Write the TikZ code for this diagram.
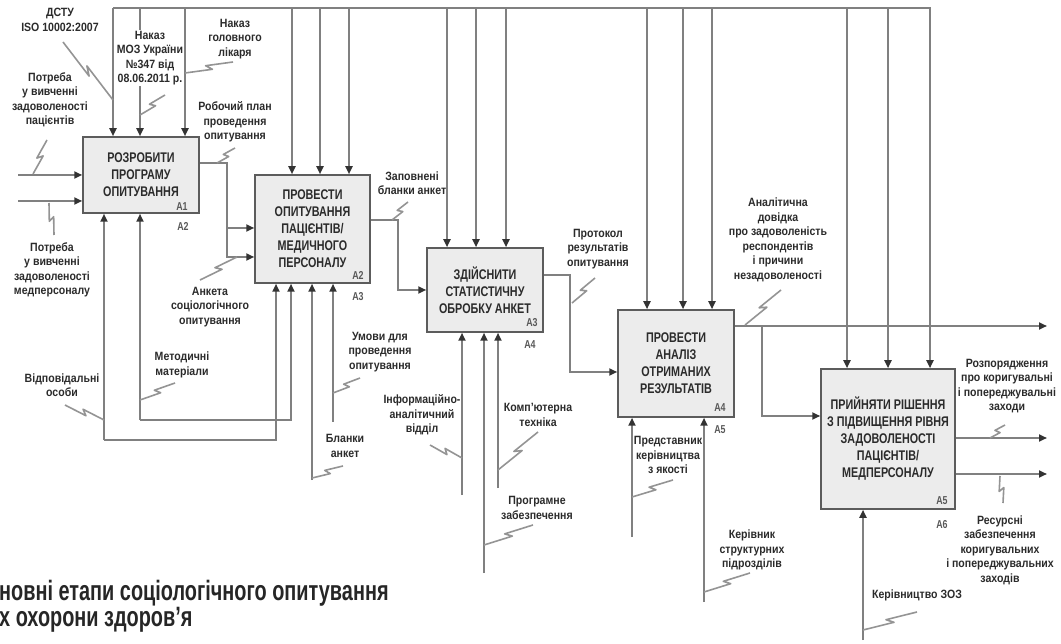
\documentclass[tikz,border=0pt]{standalone}
\usepackage{fontspec}
\setmainfont{Liberation Sans}
\newfontfamily\lblfont[FakeStretch=0.88]{Liberation Sans}
\newfontfamily\ttlfont[FakeStretch=0.77]{Liberation Sans}
\newfontfamily\capfont[FakeStretch=0.71]{Liberation Sans}
\usetikzlibrary{arrows.meta,calc}
\definecolor{lngray}{rgb}{0.5,0.5,0.5}
\definecolor{sqgray}{rgb}{0.58,0.58,0.58}
\definecolor{boxgray}{rgb}{0.36,0.36,0.36}
\definecolor{boxfill}{rgb}{0.925,0.925,0.925}
\definecolor{txtgray}{rgb}{0.17,0.17,0.17}
\definecolor{numgray}{rgb}{0.35,0.35,0.35}
\tikzset{
  func/.style={draw=boxgray,fill=boxfill,line width=1.5pt,align=center,inner sep=0pt,
    font=\ttlfont\bfseries\fontsize{14}{17}\selectfont,text=txtgray},
  lbl/.style={align=center,inner sep=0pt,font=\lblfont\bfseries\fontsize{12}{14.5}\selectfont,text=txtgray},
  num/.style={inner sep=0pt,font=\ttlfont\bfseries\fontsize{11.5}{11.5}\selectfont,text=numgray},
  ln/.style={draw=lngray,line width=2pt},
  arr/.style={ln,-{Triangle[length=8pt,width=7pt,color=black!80]}},
  squig/.style={draw=sqgray,line width=1.6pt,line join=round},
}
% tilde mark from a line to its label
\newcommand{\tld}[2]{\draw[squig] (#1) -- ($(#1)!.56!(#2)!2.5pt!-90:(#2)$) -- ($(#1)!.44!(#2)!2.5pt!90:(#2)$) -- (#2);}
\begin{document}
\begin{tikzpicture}[x=1pt,y=-1pt,line cap=butt,line join=miter]
\useasboundingbox (0,0) rectangle (1061,644);
% functions
\node[func,minimum width=116,minimum height=76] (a1) at (141,175) {РОЗРОБИТИ\\ПРОГРАМУ\\ОПИТУВАННЯ};
\node[func,minimum width=115,minimum height=108] (a2) at (312.5,229) {ПРОВЕСТИ\\ОПИТУВАННЯ\\ПАЦІЄНТІВ/\\МЕДИЧНОГО\\ПЕРСОНАЛУ};
\node[func,minimum width=116,minimum height=84] (a3) at (485,290) {ЗДІЙСНИТИ\\СТАТИСТИЧНУ\\ОБРОБКУ АНКЕТ};
\node[func,minimum width=116,minimum height=107] (a4) at (676,363.5) {ПРОВЕСТИ\\АНАЛІЗ\\ОТРИМАНИХ\\РЕЗУЛЬТАТІВ};
\node[func,minimum width=134,minimum height=140] (a5) at (888,439) {ПРИЙНЯТИ РІШЕННЯ\\З ПІДВИЩЕННЯ РІВНЯ\\ЗАДОВОЛЕНОСТІ\\ПАЦІЄНТІВ/\\МЕДПЕРСОНАЛУ};
\node[num] (a1in) at (182,207) {A1};
\node[num] (a1out) at (183,226) {A2};
\node[num] (a2in) at (358,275) {A2};
\node[num] (a2out) at (358,297) {A3};
\node[num] (a3in) at (532,323) {A3};
\node[num] (a3out) at (530,345) {A4};
\node[num] (a4in) at (720,408) {A4};
\node[num] (a4out) at (720,430) {A5};
\node[num] (a5in) at (942,501) {A5};
\node[num] (a5out) at (942,525) {A6};
% controls from the top line
\coordinate (busL) at (113,8);
\coordinate (busR) at (931,8);
\draw[ln] (busL) -- (busR);
\foreach \x/\b in {113/a1,140/a1,185/a1,292/a2,320/a2,349/a2,447/a3,476/a3,506/a3,647/a4,683/a4,712/a4,847/a5,888/a5,930/a5}
  \draw[arr] (busL -| \x,0) -- (\b.north -| \x,0);
% inputs and outputs
\coordinate (in1) at (18,175);
\coordinate (in2) at (18,201);
\draw[arr] (in1) -- (a1.west |- in1);
\draw[arr] (in2) -- (a1.west |- in2);
\draw[arr] (a1.east |- 0,163) -| (227,228) -- (a2.west |- 0,228);
\draw[arr] (227,226) -- (227,257) -- (a2.west |- 0,257);
\draw[arr] (a2.east |- 0,220) -| (398,290) -- (a3.west |- 0,290);
\draw[arr] (a3.east |- 0,275) -| (570,372) -- (a4.west |- 0,372);
\coordinate (out4) at (1047,326);
\draw[arr] (a4.east |- out4) -- (out4);
\draw[arr] (762,326) |- (a5.west |- 0,416);
\coordinate (out5a) at (1047,438);
\coordinate (out5b) at (1047,474);
\draw[arr] (a5.east |- out5a) -- (out5a);
\draw[arr] (a5.east |- out5b) -- (out5b);
% mechanisms
\draw[arr] (104,440) -- (a1.south -| 104,0);
\draw[arr] (104,440) -| (a2.south -| 276,0);
\draw[arr] (140,420) -- (a1.south -| 140,0);
\draw[arr] (140,420) -| (a2.south -| 291,0);
\draw[arr] (312,480) -- (a2.south -| 312,0);
\draw[arr] (333,422) -- (a2.south -| 333,0);
\draw[arr] (462,495) -- (a3.south -| 462,0);
\draw[arr] (484,573) -- (a3.south -| 484,0);
\draw[arr] (498,488) -- (a3.south -| 498,0);
\draw[arr] (632,537) -- (a4.south -| 632,0);
\draw[arr] (704,602) -- (a4.south -| 704,0);
\draw[arr] (863,640) -- (a5.south -| 863,0);
% labels
\node[lbl] (dstu) at (60,20) {ДСТУ\\ISO 10002:2007};
\node[lbl,fill=white,inner sep=1pt] (moz) at (150,58) {Наказ\\МОЗ України\\№347 від\\08.06.2011 р.};
\node[lbl] (golov) at (235,39) {Наказ\\головного\\лікаря};
\node[lbl] (potr1) at (50,100) {Потреба\\у вивченні\\задоволеності\\пацієнтів};
\node[lbl] (potr2) at (52,270) {Потреба\\у вивченні\\задоволеності\\медперсоналу};
\node[lbl] (plan) at (235,122) {Робочий план\\проведення\\опитування};
\node[lbl] (anketa) at (210,307) {Анкета\\соціологічного\\опитування};
\node[lbl] (metod) at (182,365) {Методичні\\матеріали};
\node[lbl] (vidp) at (62,385) {Відповідальні\\особи};
\node[lbl] (umovy) at (380,352) {Умови для\\проведення\\опитування};
\node[lbl] (blanky) at (345,446) {Бланки\\анкет};
\node[lbl] (zapovn) at (412,183) {Заповнені\\бланки анкет};
\node[lbl] (protokol) at (598,249) {Протокол\\результатів\\опитування};
\node[lbl] (info) at (422,415) {Інформаційно-\\аналітичний\\відділ};
\node[lbl] (komp) at (538,415) {Комп’ютерна\\техніка};
\node[lbl] (prog) at (537,508) {Програмне\\забезпечення};
\node[lbl] (dovidka) at (778,240) {Аналітична\\довідка\\про задоволеність\\респондентів\\і причини\\незадоволеності};
\node[lbl] (predst) at (668,455) {Представник\\керівництва\\з якості};
\node[lbl] (kerivn) at (752,550) {Керівник\\структурних\\підрозділів};
\node[lbl] (rozp) at (1007,386) {Розпорядження\\про коригувальні\\і попереджувальні\\заходи};
\node[lbl] (resurs) at (1000,550) {Ресурсні\\забезпечення\\коригувальних\\і попереджувальних\\заходів};
\node[lbl] (kerzoz) at (917,595) {Керівництво ЗОЗ};
% tilde marks
\tld{113,100}{63,42}
\tld{140,115}{165,95}
\tld{185,73}{233,62}
\tld{33,174}{47,140}
\tld{49,203}{54,235}
\tld{217,163}{235,148}
\tld{237,257}{200,280}
\tld{140,400}{175,383}
\tld{104,420}{65,405}
\tld{333,393}{360,378}
\tld{312,478}{343,466}
\tld{392,220}{408,202}
\tld{572,303}{595,278}
\tld{462,458}{430,445}
\tld{498,470}{538,432}
\tld{484,545}{533,525}
\tld{745,325}{781,290}
\tld{632,497}{673,480}
\tld{704,592}{750,573}
\tld{990,438}{1005,425}
\tld{1000,476}{1003,503}
\tld{863,630}{917,612}
% caption
\node[anchor=north west,inner sep=0pt,align=left,font=\capfont\bfseries\fontsize{28}{24}\selectfont,text=black!85] (cap) at (-1,580) {новні етапи соціологічного опитування\\х охорони здоров’я};
\end{tikzpicture}
\end{document}
